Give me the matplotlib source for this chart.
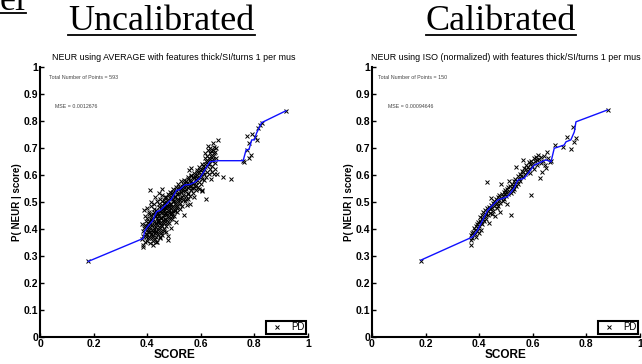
import numpy as np
import matplotlib
matplotlib.use('Agg')
import matplotlib.pyplot as plt
from matplotlib.lines import Line2D

# Data
left_curve_x = [0.18, 0.385, 0.39, 0.40, 0.42, 0.435, 0.45, 0.47, 0.49, 0.51, 0.52, 0.54, 0.56,
                0.58, 0.597, 0.61, 0.634, 0.665, 0.758, 0.769, 0.78, 0.79, 0.80, 0.808, 0.827, 0.918]
left_curve_y = [0.28, 0.365, 0.39, 0.407, 0.43, 0.464, 0.47, 0.49, 0.51, 0.544, 0.545, 0.563, 0.565,
                0.575, 0.589, 0.61, 0.649, 0.653, 0.653, 0.693, 0.695, 0.73, 0.73, 0.755, 0.794, 0.838]

right_curve_x = [0.183, 0.376, 0.394, 0.407, 0.432, 0.469, 0.506, 0.53, 0.544, 0.568, 0.606,
                 0.649, 0.668, 0.68, 0.717, 0.724, 0.742, 0.755, 0.761, 0.879]
right_curve_y = [0.285, 0.371, 0.396, 0.421, 0.47, 0.507, 0.52, 0.551, 0.581, 0.588, 0.637,
                 0.656, 0.649, 0.699, 0.711, 0.723, 0.73, 0.76, 0.797, 0.841]

left_points = [
    (0.381, 0.362), (0.383, 0.391), (0.379, 0.418), (0.386, 0.341), (0.384, 0.375),
    (0.392, 0.352), (0.388, 0.402), (0.394, 0.428), (0.391, 0.447), (0.396, 0.381), (0.389, 0.469), (0.397, 0.412),
    (0.402, 0.365), (0.404, 0.388), (0.399, 0.439), (0.406, 0.455), (0.401, 0.478), (0.405, 0.397), (0.403, 0.421),
    (0.408, 0.372), (0.407, 0.463),
    (0.411, 0.348), (0.413, 0.383), (0.412, 0.409), (0.415, 0.432), (0.414, 0.451), (0.416, 0.487), (0.418, 0.366),
    (0.417, 0.398), (0.419, 0.442), (0.412, 0.545), (0.415, 0.501),
    (0.421, 0.357), (0.423, 0.379), (0.425, 0.415), (0.422, 0.436), (0.424, 0.462), (0.426, 0.491), (0.427, 0.404),
    (0.428, 0.448), (0.429, 0.519), (0.422, 0.389),
    (0.431, 0.371), (0.433, 0.394), (0.432, 0.423), (0.435, 0.441), (0.434, 0.471), (0.436, 0.503), (0.437, 0.386),
    (0.438, 0.456), (0.439, 0.428), (0.434, 0.352),
    (0.441, 0.383), (0.443, 0.406), (0.442, 0.434), (0.445, 0.452), (0.444, 0.481), (0.446, 0.512), (0.447, 0.365),
    (0.448, 0.468), (0.449, 0.421), (0.443, 0.532),
    (0.451, 0.392), (0.453, 0.415), (0.452, 0.441), (0.455, 0.463), (0.454, 0.489), (0.456, 0.527), (0.457, 0.376),
    (0.458, 0.474), (0.459, 0.433), (0.455, 0.548),
    (0.461, 0.401), (0.463, 0.423), (0.462, 0.452), (0.465, 0.471), (0.464, 0.497), (0.466, 0.518), (0.467, 0.437),
    (0.468, 0.482), (0.469, 0.389),
    (0.471, 0.411), (0.473, 0.434), (0.472, 0.459), (0.475, 0.486), (0.474, 0.508), (0.476, 0.529), (0.477, 0.446),
    (0.478, 0.373), (0.479, 0.492),
    (0.481, 0.424), (0.483, 0.447), (0.482, 0.468), (0.485, 0.493), (0.484, 0.516), (0.486, 0.538), (0.487, 0.457),
    (0.488, 0.402), (0.489, 0.479),
    (0.491, 0.436), (0.493, 0.458), (0.492, 0.481), (0.495, 0.503), (0.494, 0.527), (0.496, 0.549), (0.497, 0.468),
    (0.498, 0.512),
    (0.501, 0.449), (0.503, 0.471), (0.502, 0.494), (0.505, 0.518), (0.504, 0.537), (0.506, 0.556), (0.507, 0.482),
    (0.508, 0.426),
    (0.511, 0.462), (0.513, 0.484), (0.512, 0.507), (0.515, 0.528), (0.514, 0.547), (0.516, 0.568),
    (0.521, 0.473), (0.523, 0.496), (0.522, 0.516), (0.525, 0.538), (0.524, 0.556), (0.526, 0.577),
    (0.531, 0.484), (0.533, 0.507), (0.532, 0.526), (0.535, 0.548), (0.534, 0.566), (0.536, 0.583), (0.538, 0.452),
    (0.541, 0.502), (0.543, 0.523), (0.542, 0.541), (0.545, 0.559), (0.544, 0.578),
    (0.551, 0.512), (0.553, 0.533), (0.552, 0.551), (0.555, 0.568), (0.554, 0.587), (0.556, 0.617), (0.558, 0.492),
    (0.561, 0.523), (0.563, 0.544), (0.562, 0.561), (0.565, 0.579), (0.564, 0.598),
    (0.571, 0.534), (0.573, 0.553), (0.572, 0.572), (0.575, 0.589), (0.574, 0.607), (0.576, 0.518),
    (0.581, 0.546), (0.583, 0.563), (0.582, 0.584), (0.585, 0.601), (0.584, 0.619),
    (0.591, 0.556), (0.593, 0.574), (0.592, 0.593), (0.595, 0.611), (0.594, 0.628),
    (0.601, 0.566), (0.603, 0.584), (0.602, 0.604), (0.605, 0.623), (0.604, 0.641), (0.606, 0.544),
    (0.611, 0.583), (0.613, 0.602), (0.612, 0.621), (0.615, 0.641), (0.614, 0.662), (0.616, 0.681), (0.618, 0.512),
    (0.621, 0.594), (0.623, 0.612), (0.622, 0.633), (0.625, 0.652), (0.624, 0.671), (0.626, 0.693), (0.628, 0.708),
    (0.631, 0.603), (0.633, 0.623), (0.632, 0.642), (0.635, 0.661), (0.634, 0.682), (0.636, 0.701), (0.638, 0.584),
    (0.641, 0.612), (0.643, 0.632), (0.642, 0.651), (0.645, 0.672), (0.644, 0.693), (0.646, 0.718),
    (0.651, 0.604), (0.653, 0.624), (0.652, 0.645), (0.655, 0.663), (0.654, 0.684),
    # sparse ones
    (0.18, 0.28), (0.385, 0.334), (0.478, 0.358), (0.595, 0.548), (0.603, 0.539), (0.661, 0.603), (0.683, 0.591),
    (0.712, 0.587), (0.665, 0.731), (0.563, 0.627), (0.549, 0.489), (0.761, 0.648), (0.771, 0.694), (0.781, 0.718),
    (0.792, 0.752), (0.801, 0.741), (0.809, 0.728), (0.812, 0.773), (0.822, 0.786), (0.787, 0.674), (0.779, 0.662),
    (0.829, 0.794), (0.918, 0.838), (0.757, 0.652), (0.772, 0.745),
]

# more points filling the dense blob
left_points_dense = [
    (0.395, 0.372), (0.398, 0.395), (0.393, 0.416), (0.401, 0.383), (0.404, 0.409), (0.406, 0.431), (0.409, 0.388),
    (0.41, 0.419), (0.413, 0.437), (0.417, 0.374), (0.418, 0.413), (0.42, 0.455), (0.424, 0.398), (0.426, 0.427),
    (0.427, 0.474), (0.43, 0.386), (0.431, 0.409), (0.433, 0.447), (0.436, 0.462), (0.437, 0.418), (0.44, 0.397),
    (0.441, 0.426), (0.442, 0.458), (0.444, 0.492), (0.446, 0.441), (0.447, 0.405), (0.45, 0.426), (0.451, 0.458),
    (0.452, 0.478), (0.454, 0.502), (0.456, 0.412), (0.458, 0.446), (0.46, 0.466), (0.461, 0.483), (0.462, 0.508),
    (0.464, 0.428), (0.466, 0.458), (0.468, 0.495), (0.47, 0.476), (0.471, 0.452), (0.472, 0.518), (0.474, 0.421),
    (0.476, 0.471), (0.478, 0.503), (0.48, 0.482), (0.481, 0.458), (0.483, 0.527), (0.485, 0.437), (0.487, 0.511),
    (0.489, 0.463), (0.49, 0.494), (0.492, 0.532), (0.494, 0.447), (0.496, 0.486), (0.498, 0.538), (0.5, 0.502),
    (0.502, 0.522), (0.504, 0.468), (0.506, 0.545), (0.508, 0.498), (0.51, 0.531), (0.512, 0.478), (0.514, 0.512),
    (0.517, 0.552), (0.519, 0.491), (0.52, 0.532), (0.523, 0.507), (0.527, 0.548), (0.529, 0.561), (0.53, 0.518),
    (0.534, 0.539), (0.537, 0.558), (0.54, 0.572), (0.543, 0.512), (0.546, 0.547), (0.548, 0.571), (0.551, 0.593),
    (0.553, 0.528), (0.557, 0.558), (0.559, 0.581), (0.562, 0.599), (0.566, 0.551), (0.569, 0.569), (0.572, 0.592),
    (0.577, 0.561), (0.579, 0.598), (0.583, 0.574), (0.587, 0.611), (0.589, 0.588), (0.597, 0.617), (0.599, 0.597),
    (0.607, 0.612), (0.609, 0.634), (0.617, 0.629), (0.619, 0.652), (0.627, 0.641), (0.629, 0.662), (0.637, 0.672),
    (0.639, 0.689), (0.647, 0.659), (0.649, 0.681), (0.656, 0.699), (0.648, 0.702), (0.421, 0.342), (0.438, 0.351),
    (0.449, 0.369), (0.429, 0.363), (0.452, 0.386), (0.463, 0.394), (0.399, 0.356),
]

right_points = [
    (0.183, 0.283), (0.368, 0.342), (0.369, 0.361), (0.371, 0.378), (0.372, 0.386), (0.375, 0.368), (0.378, 0.389),
    (0.381, 0.402), (0.383, 0.381), (0.385, 0.395), (0.387, 0.411), (0.389, 0.372), (0.391, 0.418), (0.393, 0.393),
    (0.394, 0.405), (0.396, 0.426), (0.398, 0.384), (0.399, 0.412), (0.402, 0.431), (0.403, 0.446), (0.405, 0.398),
    (0.407, 0.423), (0.409, 0.441), (0.411, 0.452), (0.412, 0.419), (0.414, 0.437), (0.416, 0.462), (0.418, 0.428),
    (0.421, 0.448), (0.423, 0.471), (0.424, 0.437), (0.426, 0.455), (0.428, 0.575), (0.429, 0.478), (0.431, 0.451),
    (0.433, 0.466), (0.435, 0.421), (0.437, 0.482), (0.439, 0.461), (0.441, 0.473), (0.443, 0.514), (0.445, 0.488),
    (0.446, 0.456), (0.448, 0.479), (0.451, 0.495), (0.453, 0.466), (0.455, 0.487), (0.457, 0.503), (0.459, 0.448),
    (0.461, 0.491), (0.463, 0.511), (0.465, 0.479), (0.467, 0.498), (0.469, 0.519), (0.471, 0.487), (0.473, 0.507),
    (0.475, 0.526), (0.477, 0.462), (0.479, 0.498), (0.481, 0.565), (0.483, 0.516), (0.485, 0.531), (0.487, 0.503),
    (0.489, 0.522), (0.491, 0.538), (0.493, 0.512), (0.495, 0.529), (0.497, 0.546), (0.499, 0.521), (0.501, 0.537),
    (0.503, 0.491), (0.505, 0.548), (0.507, 0.529), (0.509, 0.557), (0.512, 0.579), (0.513, 0.541), (0.515, 0.558),
    (0.517, 0.532), (0.519, 0.452), (0.521, 0.551), (0.523, 0.567), (0.525, 0.541), (0.527, 0.559), (0.529, 0.576),
    (0.531, 0.548), (0.533, 0.567), (0.535, 0.585), (0.537, 0.628), (0.539, 0.561), (0.541, 0.578), (0.544, 0.596),
    (0.546, 0.568), (0.548, 0.587), (0.551, 0.604), (0.553, 0.579), (0.555, 0.598), (0.558, 0.616), (0.562, 0.656),
    (0.563, 0.593), (0.565, 0.611), (0.568, 0.627), (0.571, 0.604), (0.573, 0.621), (0.576, 0.637), (0.578, 0.612),
    (0.581, 0.631), (0.584, 0.648), (0.586, 0.622), (0.589, 0.641), (0.591, 0.609), (0.593, 0.526), (0.595, 0.651),
    (0.598, 0.633), (0.601, 0.645), (0.604, 0.662), (0.606, 0.624), (0.609, 0.651), (0.612, 0.668), (0.614, 0.638),
    (0.617, 0.657), (0.621, 0.674), (0.624, 0.661), (0.626, 0.588), (0.629, 0.646), (0.632, 0.667), (0.635, 0.611),
    (0.638, 0.652), (0.641, 0.672), (0.645, 0.636), (0.649, 0.625), (0.653, 0.685), (0.657, 0.662), (0.663, 0.648),
    (0.668, 0.652), (0.681, 0.711), (0.712, 0.705), (0.729, 0.742), (0.742, 0.695), (0.749, 0.777), (0.755, 0.723),
    (0.761, 0.738), (0.879, 0.841),
]

titles = ['NEUR using AVERAGE with features thick/SI/turns 1 per mus',
          'NEUR using ISO (normalized) with features thick/SI/turns 1 per mus']
n_points = [593, 150]
mse_text = ['0.0012676', '0.00094646']
headers = ['Uncalibrated', 'Calibrated']

sans = 'Liberation Sans'
serif = 'Liberation Serif'

fig = plt.figure(figsize=(6.42, 3.64), dpi=100)
W, H = 642, 364

def add_panel(left_px, pts, cx, cy, title, npts, mse, txt_x):
    ax = fig.add_axes([left_px / W, 27 / H, 268 / W, 270 / H])
    pts = np.array(pts)
    ax.plot(pts[:, 0], pts[:, 1], 'x', color='black', markersize=2.2, mew=0.7, label='PD')
    ax.plot(cx, cy, '-', color='#1010ff', lw=1.0)
    ax.set_xlim(0, 1)
    ax.set_ylim(0, 1)
    ax.set_xticks(np.arange(0, 1.01, 0.2))
    ax.set_xticklabels(['0', '0.2', '0.4', '0.6', '0.8', '1'])
    ax.set_yticks(np.arange(0, 1.01, 0.1))
    ax.set_yticklabels(['0'] + ['%.1f' % v for v in np.arange(0.1, 0.95, 0.1)] + ['1'])
    for s in ['top', 'right']:
        ax.spines[s].set_visible(False)
    for s in ['left', 'bottom']:
        ax.spines[s].set_linewidth(1.5)
    ax.tick_params(direction='in', length=3, width=1, pad=1.5)
    for lab in ax.get_xticklabels() + ax.get_yticklabels():
        lab.set_fontfamily(sans)
        lab.set_fontweight('bold')
        lab.set_fontsize(7.5)
    ax.set_title(title, fontsize=6.4, fontfamily=sans, pad=5)
    ax.set_xlabel('SCORE', fontsize=8.5, fontweight='bold', fontfamily=sans, labelpad=0)
    ax.set_ylabel('P( NEUR | score)', fontsize=7, fontweight='bold', fontfamily=sans, labelpad=1)
    ax.text(txt_x[0], 0.96, 'Total Number of Points = %d' % npts, fontsize=3.8,
            fontfamily=sans, color='#444444', va='center', transform=ax.transAxes)
    ax.text(txt_x[1], 0.852, 'MSE = ' + mse, fontsize=3.8,
            fontfamily=sans, color='#444444', va='center', transform=ax.transAxes)
    leg = ax.legend(loc='lower right', bbox_to_anchor=(0.993, 0.012), borderaxespad=0,
                    handlelength=1.8, borderpad=0.15, handletextpad=0.6,
                    fancybox=False, framealpha=1, prop={'family': sans, 'size': 7})
    leg.get_frame().set_edgecolor('black')
    leg.get_frame().set_linewidth(1.5)
    return ax

add_panel(40, left_points + left_points_dense, left_curve_x, left_curve_y,
          titles[0], n_points[0], mse_text[0], (0.034, 0.056))
add_panel(372, right_points, right_curve_x, right_curve_y,
          titles[1], n_points[1], mse_text[1], (0.021, 0.059))

# big underlined headers
big = []
big.append(fig.text(161.5 / W, 1 - 21 / H, headers[0], ha='center', va='center', fontsize=26, fontfamily=serif))
big.append(fig.text(501 / W, 1 - 21 / H, headers[1], ha='center', va='center', fontsize=26, fontfamily=serif))
big.append(fig.text(0, 1 - 10 / H, 'el', ha='left', va='baseline', fontsize=26, fontfamily=serif))

fig.canvas.draw()
r = fig.canvas.get_renderer()
for i, t in enumerate(big):
    bb = t.get_window_extent(r)
    yy = 1 - 35 / H if i < 2 else 1 - 13 / H
    fig.add_artist(Line2D([bb.x0 / W, bb.x1 / W], [yy, yy], color='black', lw=1.3,
                          transform=fig.transFigure))

fig.savefig('out.png', dpi=100)
